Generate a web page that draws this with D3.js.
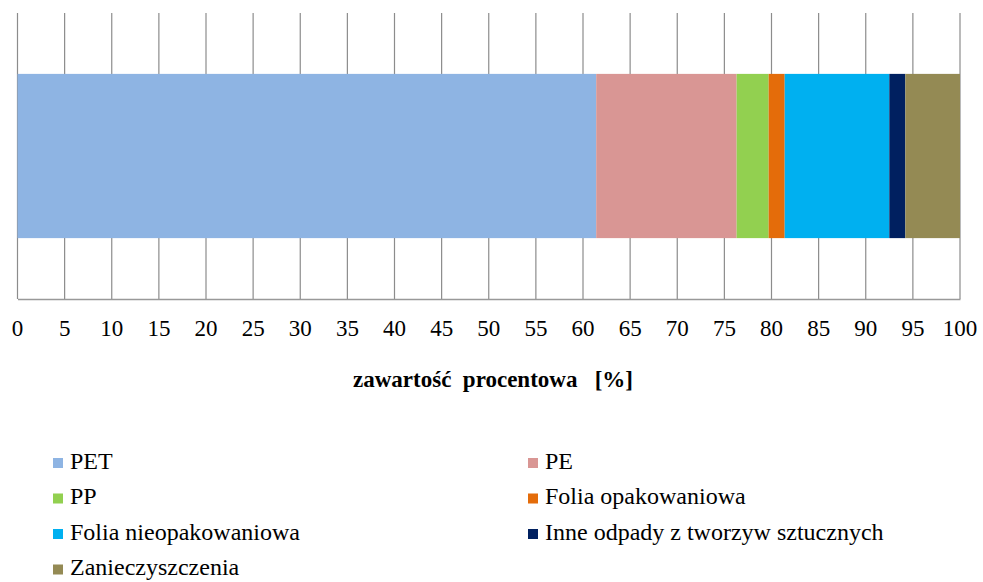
<!DOCTYPE html>
<html>
<head>
<meta charset="utf-8">
<script src="https://cdn.jsdelivr.net/npm/d3@7"></script>
<style>
  body { margin: 0; background: #fff; }
</style>
</head>
<body>
<svg id="chart" width="983" height="582"></svg>
<script>
// category names and their shares (%)
const categories = ['PET', 'PE', 'PP', 'Folia opakowaniowa', 'Folia nieopakowaniowa',
    'Inne odpady z tworzyw sztucznych', 'Zanieczyszczenia'];
const values = [61.4, 14.9, 3.4, 1.7, 11.1, 1.7, 5.8];
const colors = ['#8EB4E3', '#D99694', '#92D050', '#E46C0A', '#00B0F0', '#002060', '#948A54'];
const ticks = d3.range(0, 101, 5);

const FONT = 'Liberation Serif';

const svg = d3.select('#chart');
const margin = { left: 17.5, right: 23, top: 13, bottom: 283 };
const plotBottom = 582 - margin.bottom;

// scales in page coordinates, so texts need no transformed parent
// (text under a transform came out in a fallback sans font)
const x = d3.scaleLinear().domain([0, 100]).range([margin.left, 983 - margin.right]);
const y = d3.scaleBand().domain(['row']).range([margin.top, plotBottom])
    .paddingInner(0.42).paddingOuter(0.215);

// vertical gridlines
svg.append('g')
    .selectAll('line')
    .data(ticks)
    .enter().append('line')
    .attr('x1', d => x(d)).attr('x2', d => x(d))
    .attr('y1', margin.top).attr('y2', plotBottom)
    .attr('stroke', '#8c8c8c')
    .attr('stroke-width', 1.2);

// stacked segments
let acc = 0;
const segs = values.map((v, i) => {
    const s = { name: categories[i], x0: acc, x1: acc + v, color: colors[i] };
    acc += v;
    return s;
});

svg.append('g')
    .selectAll('rect')
    .data(segs)
    .enter().append('rect')
    .attr('x', d => x(d.x0))
    .attr('width', d => x(d.x1) - x(d.x0))
    .attr('y', y('row'))
    .attr('height', y.bandwidth())
    .attr('fill', d => d.color);

// bottom axis line
const axis = svg.append('g')
    .attr('transform', `translate(0,${plotBottom})`)
    .call(d3.axisBottom(x).tickValues(ticks).tickSize(0).tickFormat(''));
axis.select('.domain').attr('stroke', '#999').attr('stroke-width', 1.5);

// tick labels
svg.append('g')
    .selectAll('text')
    .data(ticks)
    .enter().append('text')
    .attr('x', d => x(d))
    .attr('y', plotBottom + 32)
    .attr('text-anchor', 'middle')
    .attr('dominant-baseline', 'middle')
    .attr('font-family', FONT)
    .attr('font-size', 23)
    .attr('fill', '#000')
    .text(d => d);

// axis title
svg.append('text')
    .attr('x', 493)
    .attr('y', 382)
    .attr('text-anchor', 'middle')
    .attr('dominant-baseline', 'middle')
    .attr('font-family', FONT)
    .attr('font-size', 23)
    .attr('font-weight', 'bold')
    .text('zawartość\u00a0\u00a0procentowa\u00a0\u00a0\u00a0[%]');

// legend, two columns
const colX = i => (i % 2 ? 528 : 53);
const rowY = i => 463 + Math.floor(i / 2) * 35.5;

svg.append('g')
    .selectAll('rect')
    .data(segs)
    .enter().append('rect')
    .attr('x', (d, i) => colX(i))
    .attr('y', (d, i) => rowY(i) - 5)
    .attr('width', 10).attr('height', 10)
    .attr('fill', d => d.color);

svg.append('g')
    .selectAll('text')
    .data(segs)
    .enter().append('text')
    .attr('x', (d, i) => colX(i) + 17)
    .attr('y', (d, i) => rowY(i))
    .attr('dominant-baseline', 'middle')
    .attr('font-family', FONT)
    .attr('font-size', 24)
    .attr('fill', '#000')
    .text(d => d.name);
</script>
</body>
</html>
